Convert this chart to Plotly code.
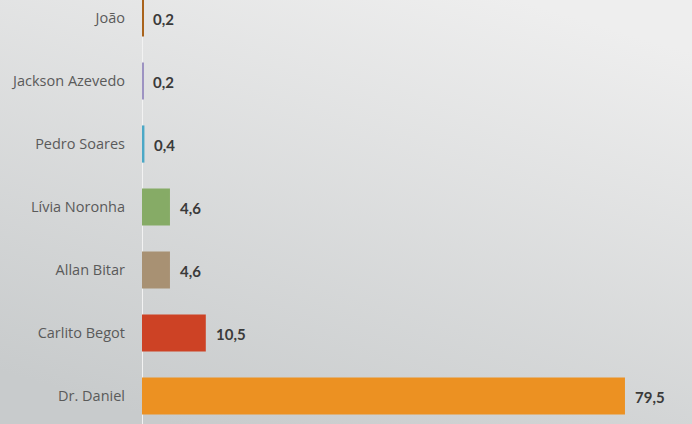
import base64
import plotly.graph_objects as go

# Data (bottom to top)
candidates = ["Dr. Daniel", "Carlito Begot", "Allan Bitar", "Lívia Noronha", "Pedro Soares", "Jackson Azevedo", "João"]
values = [79.5, 10.5, 4.6, 4.6, 0.4, 0.2, 0.2]
value_labels = ["79,5", "10,5", "4,6", "4,6", "0,4", "0,2", "0,2"]
colors = ["#ec9122", "#cd4225", "#a89173", "#86ab66", "#4ba8c6", "#9d93c2", "#a9631c"]

W, H = 692, 424
L = 142

svg = f'''<svg xmlns="http://www.w3.org/2000/svg" width="{W}" height="{H}" viewBox="0 0 {W} {H}" preserveAspectRatio="none">
<defs><linearGradient id="g" x1="0.25" y1="1" x2="0.75" y2="0">
<stop offset="0" stop-color="#c8cbcc"/><stop offset="1" stop-color="#eeeeee"/>
</linearGradient></defs><rect width="{W}" height="{H}" fill="url(#g)"/></svg>'''
src = "data:image/svg+xml;base64," + base64.b64encode(svg.encode()).decode()

fig = go.Figure()
fig.add_trace(go.Bar(
    x=values, y=candidates, orientation="h",
    marker=dict(color=colors, line=dict(width=0)),
    width=0.59, hoverinfo="skip",
))

for v, c, t in zip(values, candidates, value_labels):
    fig.add_annotation(x=v, y=c, text=f"<b>{t}</b>", showarrow=False,
                       xanchor="left", yanchor="middle", xshift=8, yshift=-1,
                       font=dict(family="Lato, Open Sans, sans-serif", size=15, color="#3a3a3a"))

fig.update_layout(
    width=W, height=H,
    margin=dict(l=L, r=0, t=0, b=0),
    paper_bgcolor="#dcdedf",
    plot_bgcolor="rgba(0,0,0,0)",
    showlegend=False,
    images=[dict(source=src, xref="paper", yref="paper",
                 x=-L / (W - L), y=1, sizex=W / (W - L), sizey=1,
                 sizing="stretch", layer="below", xanchor="left", yanchor="top")],
    xaxis=dict(range=[0, (W - L) / 6.075], showgrid=False, zeroline=True,
               zerolinecolor="#f2f2f2", zerolinewidth=1, showticklabels=False,
               fixedrange=True),
    yaxis=dict(range=[-0.444, 6.286], showgrid=False, zeroline=False,
               tickfont=dict(family="Open Sans, sans-serif", size=14.5, color="#5a5a5a"),
               ticklabelstandoff=16, fixedrange=True),
)

fig.write_html("out.html", config={"displayModeBar": False},
               post_script="document.body.style.margin='0';document.body.style.padding='0';")
